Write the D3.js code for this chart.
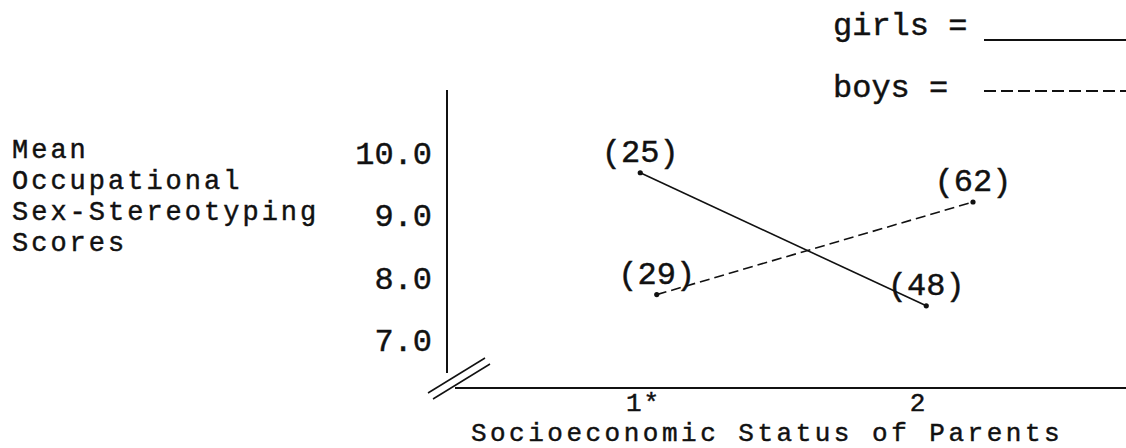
<!DOCTYPE html>
<html>
<head>
<meta charset="utf-8">
<script src="https://cdn.jsdelivr.net/npm/d3@7/dist/d3.min.js"></script>
<style>
  html, body { margin: 0; padding: 0; background: #fff; }
  svg { display: block; }
  text { font-family: Courier, "Courier New", "Nimbus Mono PS", "Liberation Mono", monospace; fill: #111; stroke: #111; stroke-width: 0.45px; }
</style>
</head>
<body>
<svg id="chart" width="1126" height="448"></svg>
<script>
// ---- data ----
const sesTicks = [1, 2];
const sesTickLabels = ["1*", "2"];
const scoreTicks = [7, 8, 9, 10];
const scoreTickLabels = ["7.0", "8.0", "9.0", "10.0"];

const girlsSES = [0.99, 2.03];
const girlsScores = [9.69, 7.55];
const girlsN = ["(25)", "(48)"];

const boysSES = [1.05, 2.2];
const boysScores = [7.73, 9.22];
const boysN = ["(29)", "(62)"];

const yTitleLines = ["Mean", "Occupational", "Sex-Stereotyping", "Scores"];
const xTitle = "Socioeconomic Status of Parents";
const legendLabels = ["girls =", "boys ="];

// ---- layout ----
const svg = d3.select("#chart");
const FS = 32;
const x = d3.scaleLinear().domain([1, 2]).range([643, 918]);
const y = d3.scaleLinear().domain([7, 10]).range([340, 153.5]);
const axisX = 447, axisTop = 90, axisBottomStop = 373, baseY = 388;

// y axis (labels only, line drawn separately)
const yAxis = svg.append("g")
  .attr("transform", `translate(${axisX},0)`)
  .call(d3.axisLeft(y).tickValues(scoreTicks)
        .tickFormat((d, i) => scoreTickLabels[i]).tickSize(0).tickPadding(15));
yAxis.select(".domain").remove();
yAxis.selectAll("text").attr("font-size", FS).attr("font-family", null).attr("fill", "#111");

svg.append("line").attr("x1", axisX).attr("x2", axisX)
  .attr("y1", axisTop).attr("y2", axisBottomStop)
  .attr("stroke", "#111").attr("stroke-width", 2);

// x axis
const xAxis = svg.append("g")
  .attr("transform", `translate(0,${baseY})`)
  .call(d3.axisBottom(x).tickValues(sesTicks)
        .tickFormat((d, i) => sesTickLabels[i]).tickSize(0).tickPadding(4.5));
xAxis.select(".domain").remove();
xAxis.selectAll("text").attr("font-size", 26).attr("letter-spacing", 2)
  .attr("font-family", null).attr("fill", "#111");

svg.append("line").attr("x1", 455).attr("x2", 1126)
  .attr("y1", baseY).attr("y2", baseY)
  .attr("stroke", "#111").attr("stroke-width", 2);

// axis break marks
[[0, 0], [5, 6]].forEach(([dx, dy]) => {
  svg.append("line")
    .attr("x1", 428 + dx).attr("y1", 393 + dy)
    .attr("x2", 485 + dx).attr("y2", 358 + dy)
    .attr("stroke", "#111").attr("stroke-width", 1.5);
});

// titles
yTitleLines.forEach((t, i) => {
  svg.append("text").attr("x", 12).attr("y", 158 + i * 31)
    .attr("font-size", 27).attr("letter-spacing", 3).text(t);
});
svg.append("text").attr("x", 767).attr("y", 441).attr("text-anchor", "middle")
  .attr("font-size", 26).attr("letter-spacing", 3.5).text(xTitle);

// series
const series = [
  { ses: girlsSES, scores: girlsScores, n: girlsN, dash: null },
  { ses: boysSES, scores: boysScores, n: boysN, dash: "10,5" }
];
const line = d3.line().x(d => x(d[0])).y(d => y(d[1]));
series.forEach(s => {
  const pts = s.ses.map((v, i) => [v, s.scores[i]]);
  svg.append("path").datum(pts).attr("d", line)
    .attr("fill", "none").attr("stroke", "#111").attr("stroke-width", 1.6)
    .attr("stroke-dasharray", s.dash);
  svg.selectAll(null).data(pts).enter().append("circle")
    .attr("cx", d => x(d[0])).attr("cy", d => y(d[1])).attr("r", 2.6).attr("fill", "#111");
  svg.selectAll(null).data(pts).enter().append("text")
    .attr("x", d => x(d[0])).attr("y", d => y(d[1]) - 11)
    .attr("text-anchor", "middle").attr("font-size", FS)
    .text((d, i) => s.n[i]);
});

// legend
const legY = [35, 97];
const legLineY = [40, 91];
legendLabels.forEach((t, i) => {
  svg.append("text").attr("x", 833).attr("y", legY[i]).attr("font-size", FS)
    .attr("xml:space", "preserve").text(t);
  svg.append("line").attr("x1", 984).attr("x2", 1126)
    .attr("y1", legLineY[i]).attr("y2", legLineY[i])
    .attr("stroke", "#111").attr("stroke-width", 2)
    .attr("stroke-dasharray", i === 1 ? "12,5" : null);
});
</script>
</body>
</html>
